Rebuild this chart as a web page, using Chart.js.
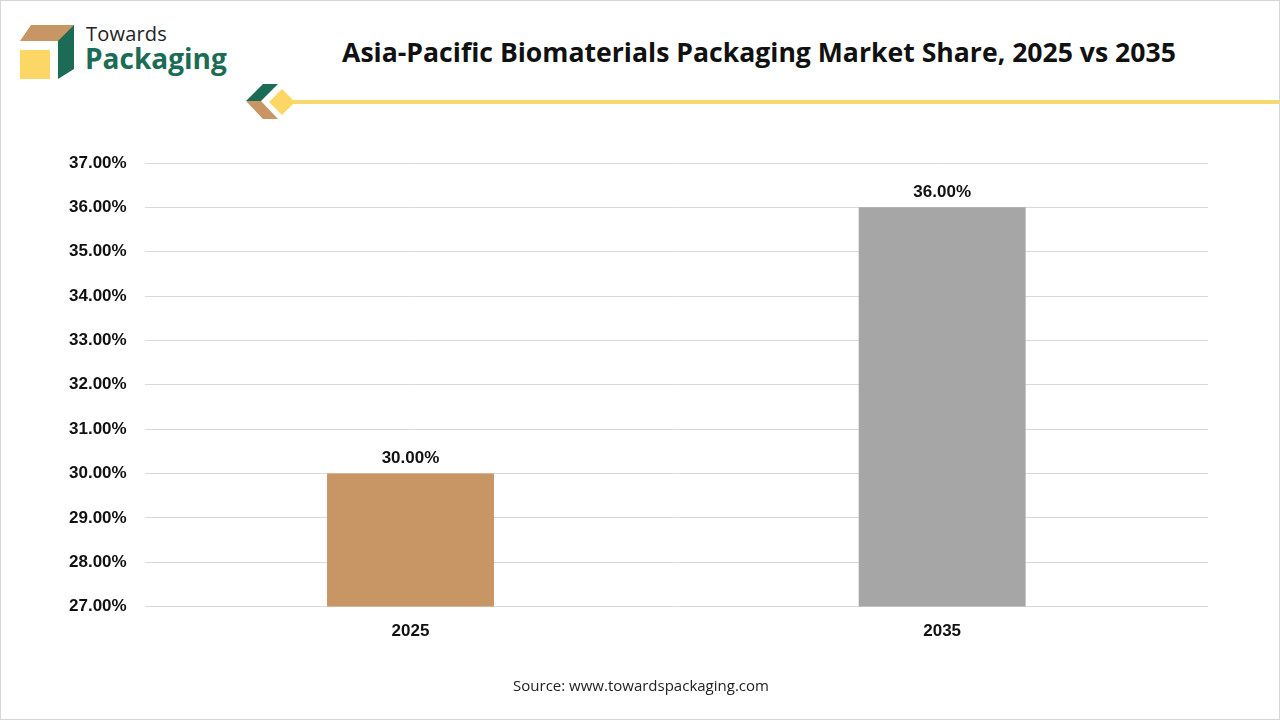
<!DOCTYPE html>
<html>
<head>
<meta charset="utf-8">
<script src="https://cdn.jsdelivr.net/npm/chart.js@4.4.1/dist/chart.umd.min.js"></script>
<style>
  html,body{margin:0;padding:0;background:#fff;}
  #page{position:relative;width:1278px;height:718px;border:1px solid #d6d6d6;overflow:hidden;background:#fff;}
  #logoTxt1{position:absolute;left:85px;top:19px;font:400 20px "Open Sans",sans-serif;color:#222;letter-spacing:0.2px;}
  #logoTxt2{position:absolute;left:84px;top:38px;font:700 28px "Open Sans",sans-serif;color:#1b6b56;}
  #title{position:absolute;left:238px;width:1040px;top:33px;text-align:center;font:700 26.6px "Open Sans",sans-serif;color:#111;}
  #source{position:absolute;left:0;width:1280px;top:674px;text-align:center;font:400 15px "Open Sans",sans-serif;color:#222;}
  #deco{position:absolute;left:0;top:0;}
  #wrap{position:absolute;left:-1px;top:-1px;width:1280px;height:720px;}
</style>
</head>
<body>
<div id="page">
  <svg id="deco" width="1280" height="130">
    <!-- logo cube -->
    <polygon points="19,40 30,24 73,24 62,40" fill="#c89665"/>
    <polygon points="57,40 73,24 73,68 57,78" fill="#1b6b56"/>
    <rect x="19" y="49" width="30" height="29" fill="#fdd766"/>
    <!-- header line decoration -->
    <rect x="290" y="99" width="990" height="4" fill="#f6d86b"/>
    <polygon points="245,100 262,83 277,83 260,100" fill="#1b6b56"/>
    <polygon points="245,100 260,100 277,118 262,118" fill="#c89665"/>
    <polygon points="268,101 281,88 294,101 281,114" fill="#fdd766"/>
  </svg>
  <div id="logoTxt1">Towards</div>
  <div id="logoTxt2">Packaging</div>
  <div id="title">Asia-Pacific Biomaterials Packaging Market Share, 2025 vs 2035</div>
  <div id="wrap"><canvas id="chart" width="1280" height="720"></canvas></div>
  <div id="source">Source: www.towardspackaging.com</div>
</div>
<script>
const years = ["2025", "2035"];
const shares = [30.00, 36.00];
const barColors = ["#c89665", "#a6a6a6"];
const yMin = 27;
const yMax = 37;

const labelFont = "'Liberation Sans', Arial, sans-serif";

// draws the value above each bar
const valueLabels = {
  id: "valueLabels",
  afterDatasetsDraw(chart){
    const ctx = chart.ctx;
    const meta = chart.getDatasetMeta(0);
    ctx.save();
    ctx.font = "bold 17px " + labelFont;
    ctx.fillStyle = "#111";
    ctx.textAlign = "center";
    ctx.textBaseline = "bottom";
    meta.data.forEach((bar, i)=>{
      ctx.fillText(shares[i].toFixed(2) + "%", bar.x, bar.y - 7);
    });
    ctx.restore();
  }
};

new Chart(document.getElementById("chart"), {
  type: "bar",
  data: {
    labels: years,
    datasets: [{
      data: shares,
      backgroundColor: barColors,
      barPercentage: 0.314,
      categoryPercentage: 1
    }]
  },
  options: {
    responsive: false,
    animation: false,
    devicePixelRatio: 1,
    layout: { padding: { top: 163, bottom: 71, left: 51, right: 72 } },
    plugins: { legend: { display: false }, tooltip: { enabled: false } },
    scales: {
      x: {
        grid: { display: false },
        border: { display: false },
        ticks: { color: "#111", padding: 7, font: { family: labelFont, size: 17, weight: "bold" } }
      },
      y: {
        min: yMin,
        max: yMax,
        grid: { color: "#d9d9d9", drawTicks: false },
        border: { display: false },
        ticks: {
          stepSize: 1,
          padding: 18,
          color: "#111",
          font: { family: labelFont, size: 17, weight: "bold" },
          callback: v => v.toFixed(2) + "%"
        }
      }
    }
  },
  plugins: [valueLabels]
});
</script>
</body>
</html>
